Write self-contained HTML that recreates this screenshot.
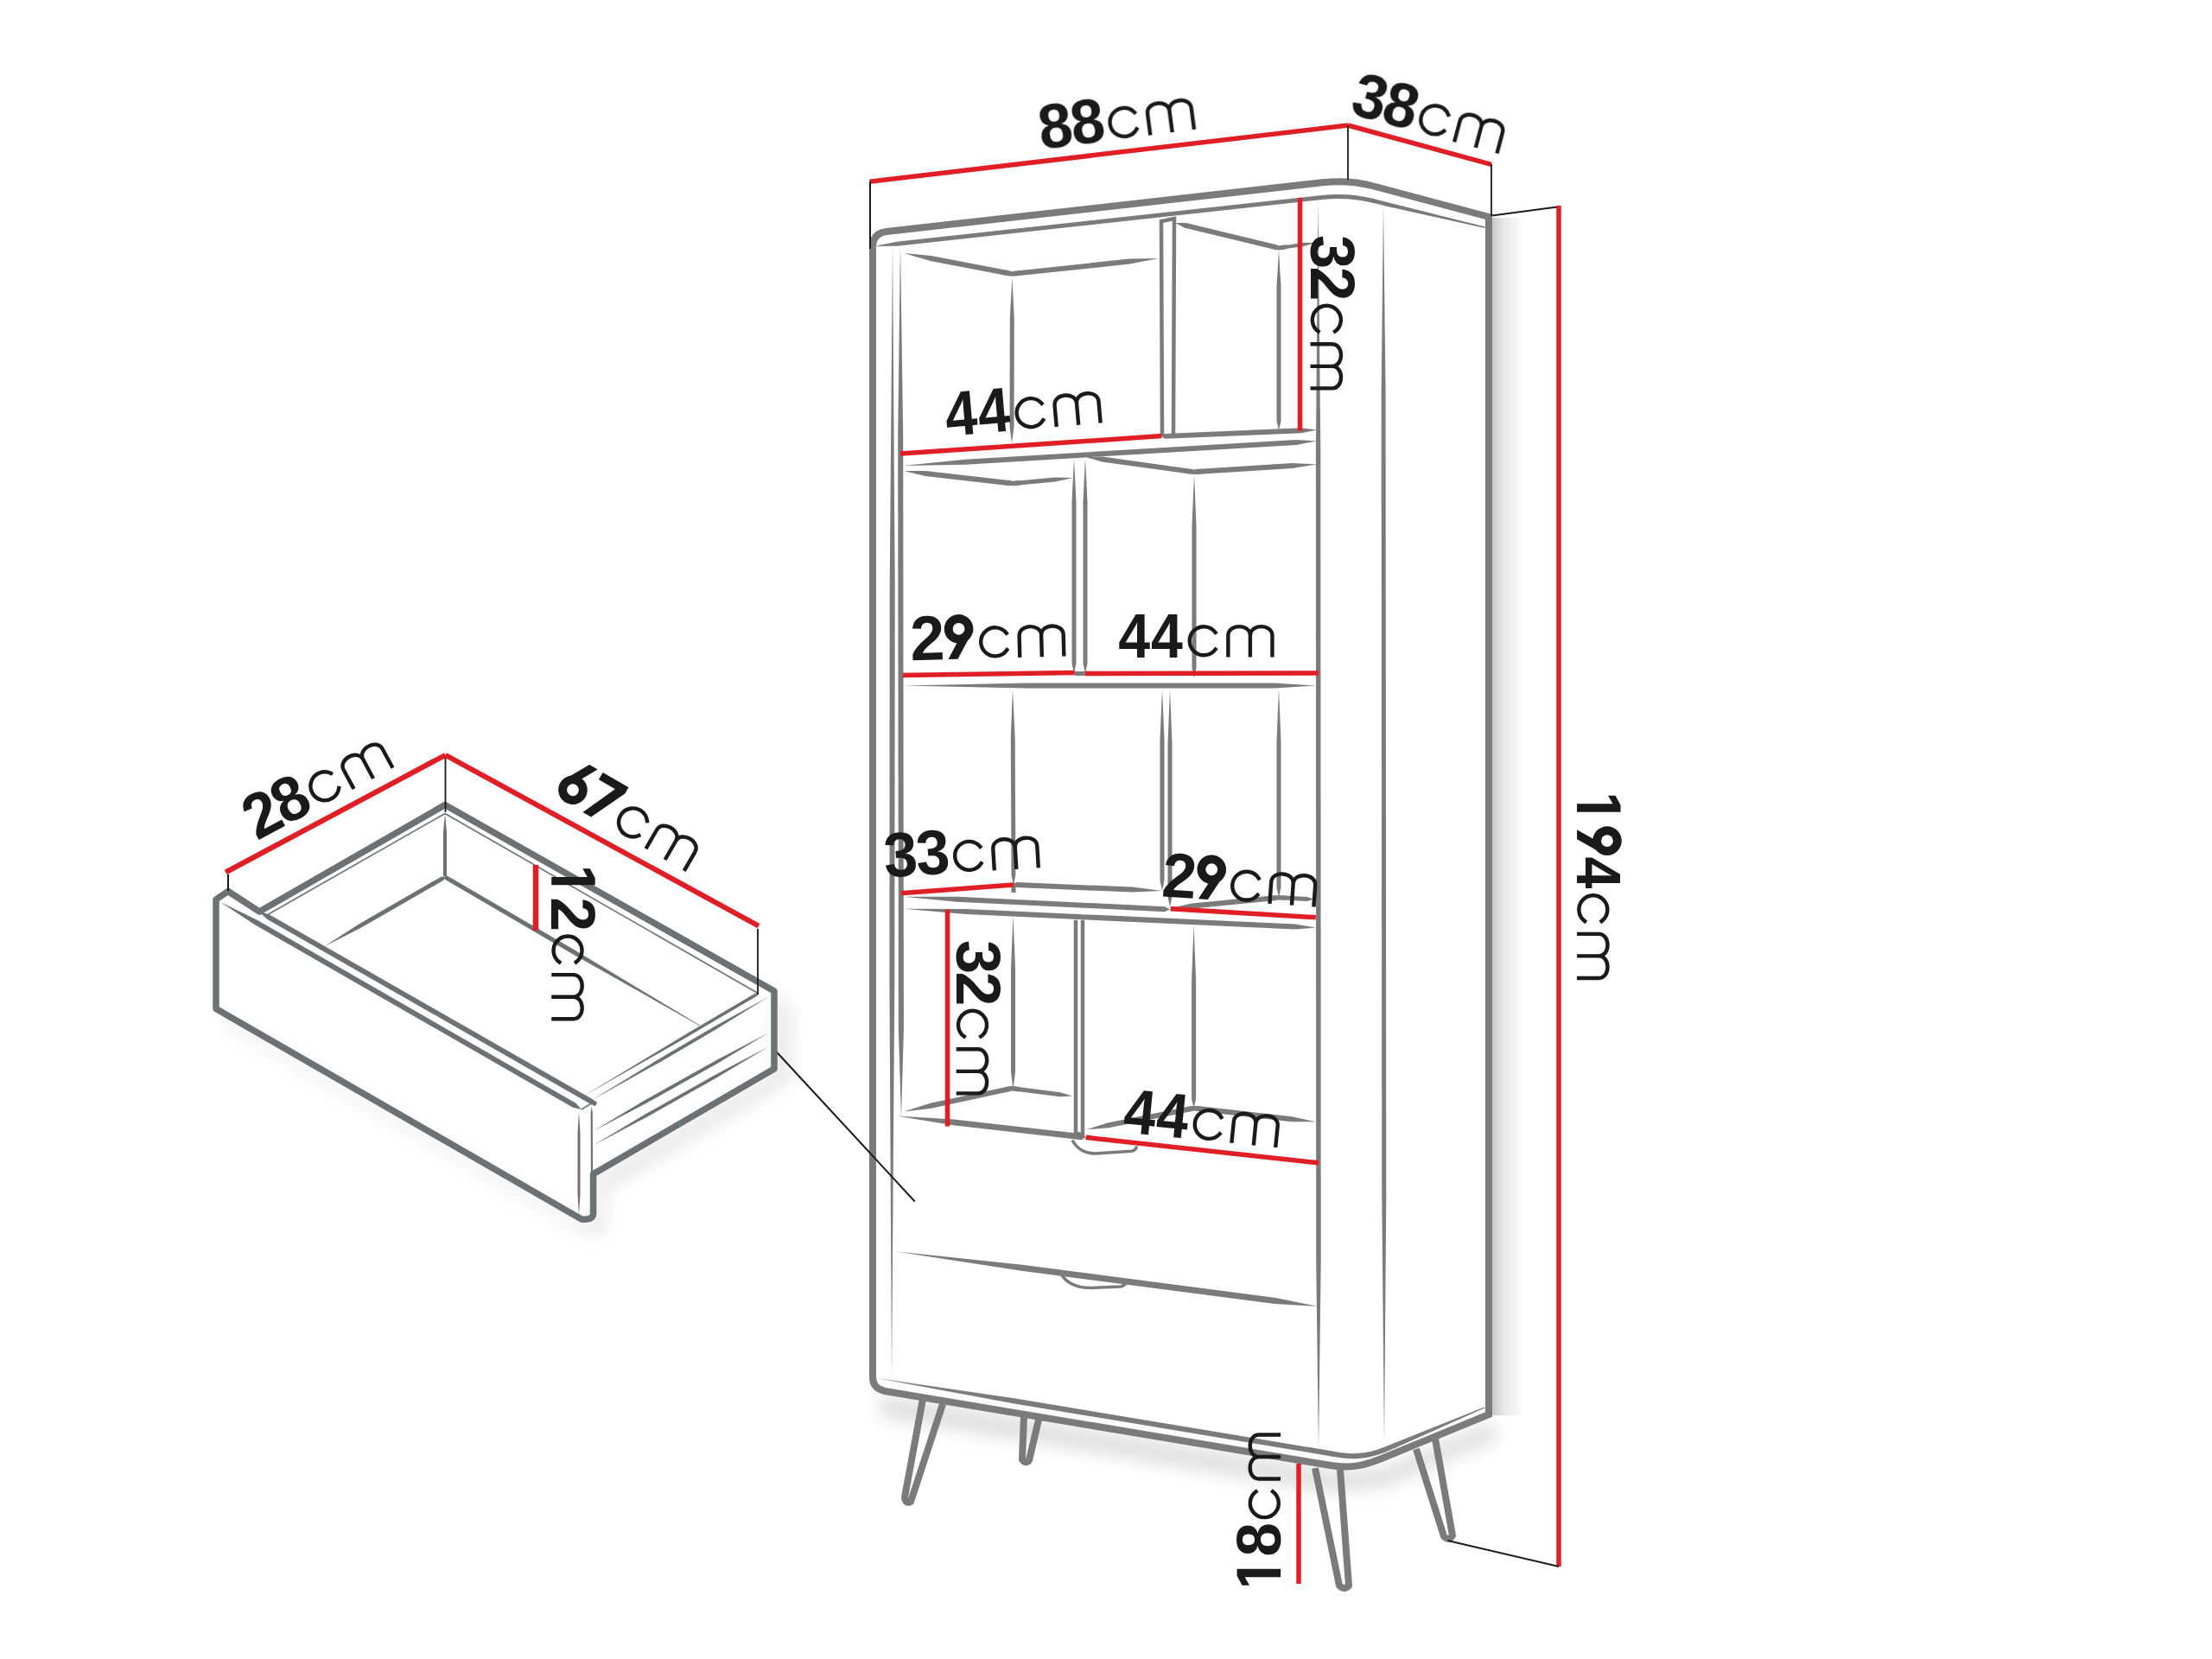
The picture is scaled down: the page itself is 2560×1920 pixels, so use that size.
<!DOCTYPE html>
<html><head><meta charset="utf-8"><style>html,body{margin:0;padding:0;background:#fff;width:2560px;height:1920px;overflow:hidden}svg{display:block}</style></head>
<body><svg width="2560" height="1920" viewBox="0 0 2560 1920">
<defs><linearGradient id="rsh" x1="0" x2="1" y1="0" y2="0"><stop offset="0" stop-color="#000" stop-opacity="0.22"/><stop offset="0.35" stop-color="#000" stop-opacity="0.1"/><stop offset="1" stop-color="#000" stop-opacity="0"/></linearGradient><filter id="blur" x="-20%" y="-20%" width="140%" height="140%"><feGaussianBlur stdDeviation="10"/></filter></defs>
<rect width="2560" height="1920" fill="#fff"/>
<g filter="url(#blur)"><path d="M1018 1614 L1540 1702 L1600 1700 L1726 1645 L1735 1665 L1600 1722 L1540 1726 L1020 1640 Z" fill="#000" opacity="0.13"/><path d="M895 1152 L915 1165 L915 1250 L700 1378 L700 1425 L680 1428 L262 1186 L255 1174 L673 1416 L690 1408 L690 1362 L898 1241 Z" fill="#000" opacity="0.10"/></g>
<rect x="1726" y="252" width="38" height="1386" fill="url(#rsh)"/>
<path d="M1010 1594 L1010 286 Q1010 270 1026 268 L1530 211.3 C1550 209 1570 210 1590 215.5 L1723 251 L1723 1637 L1605 1685.5 C1580 1696 1565 1700 1540 1696 L1024 1610 Q1010 1607 1010 1594 Z" fill="none" stroke="#7b7b7b" stroke-width="8" stroke-linejoin="miter" stroke-linecap="butt"/>
<path d="M1012 285 L1038.2 284.7 L1530.3 231 L1530 228.5 L1530 228.5 L1529.7 226 L1037.6 279.7 L1012 285 Z" fill="#7b7b7b"/>
<path d="M1528 228.7 C1550 226 1568 227 1590 232.5" fill="none" stroke="#7b7b7b" stroke-width="5" stroke-linejoin="round" stroke-linecap="butt"/>
<path d="M1588.4 234.7 L1718.4 263.8 L1718.6 262.6 L1589.6 229.9 Z" fill="#7b7b7b"/>
<path d="M1015 1595 L1172.6 1624.2 L1541.5 1685.5 L1542 1682.5 L1542 1682.5 L1542.5 1679.5 L1173.6 1618.3 L1015 1595 Z" fill="#7b7b7b"/>
<path d="M1540 1682.2 C1562 1686.5 1580 1687 1603 1677.5" fill="none" stroke="#7b7b7b" stroke-width="6" stroke-linejoin="round" stroke-linecap="butt"/>
<path d="M1603.2 1680.8 L1718.2 1629.6 L1717.8 1628.4 L1600.8 1675.2 Z" fill="#7b7b7b"/>
<path d="M1033 283 L1029.7 676.3 L1029.4 1135.1 L1032 1594 L1032 1594 L1035.3 1135.2 L1035.7 676.3 L1033 283 Z" fill="#7b7b7b"/>
<path d="M1042 282 L1039.2 504.6 L1039.9 1192.8 L1043 1294 L1043 1294 L1045.9 1192.8 L1045.2 504.6 L1042 282 Z" fill="#7b7b7b"/>
<path d="M1525.5 231 L1522.9 520.2 L1523.2 1460.1 L1526 1677 L1526 1677 L1528.7 1460.1 L1528.3 520.2 L1525.5 231 Z" fill="#7b7b7b"/>
<path d="M1601 237 L1598.7 452.1 L1599.3 1384.2 L1602 1671 L1602 1671 L1604.3 1384.2 L1603.6 452.1 L1601 237 Z" fill="#7b7b7b"/>
<line x1="1601" y1="237" x2="1718" y2="263" stroke="#7b7b7b" stroke-width="1.5" stroke-linecap="butt"/>
<path d="M1046 293 L1076.7 301.9 L1167.9 319.5 L1171 317 L1171 317 L1169.1 313.6 L1077.8 296.1 L1046 293 Z" fill="#7b7b7b"/>
<path d="M1171 317 L1174.7 319.6 L1307.3 305.6 L1341 299 L1341 299 L1306.7 299.6 L1174.1 313.7 L1171 317 Z" fill="#7b7b7b"/>
<path d="M1171.4 321 L1168.8 369 L1168.5 493.8 L1171 513 L1171 513 L1173.5 493.8 L1173.8 369 L1171.4 321 Z" fill="#7b7b7b"/>
<path d="M1345 505 L1344 256 L1359 253 L1358 503" fill="none" stroke="#7b7b7b" stroke-width="4.5" stroke-linejoin="miter" stroke-linecap="butt"/>
<path d="M1360 258 L1371.3 263.8 L1476.9 289.3 L1480 287 L1480 287 L1478.3 283.5 L1372.7 258 L1360 258 Z" fill="#7b7b7b"/>
<path d="M1480 287 L1481.1 288.9 L1509.7 284.8 L1522 281 L1522 281 L1509.1 280.8 L1480.6 284.9 L1480 287 Z" fill="#7b7b7b"/>
<path d="M1480 290 L1477.5 331.6 L1477.5 487.6 L1480 498 L1480 498 L1482.5 487.6 L1482.5 331.6 L1480 290 Z" fill="#7b7b7b"/>
<path d="M1344 505 L1347.7 507.8 L1506.1 501.2 L1524 497.5 L1524 497.5 L1505.9 495.3 L1347.5 501.9 L1344 505 Z" fill="#7b7b7b"/>
<path d="M1045 539 L1117 537.7 L1500.2 514.9 L1524 510.5 L1524 510.5 L1499.9 508.9 L1116.7 531.7 L1045 539 Z" fill="#7b7b7b"/>
<path d="M1046 545 L1070.9 550.9 L1169.1 562.3 L1172 559.6 L1172 559.6 L1169.8 556.3 L1071.5 544.9 L1046 545 Z" fill="#7b7b7b"/>
<path d="M1172 559.6 L1173.6 562 L1221.2 557.5 L1242 553 L1242 553 L1220.8 552.5 L1173.2 557 L1172 559.6 Z" fill="#7b7b7b"/>
<path d="M1257 529 L1275.3 534.6 L1378.7 548.8 L1381.6 546.2 L1381.6 546.2 L1379.5 542.9 L1276.1 528.6 L1257 529 Z" fill="#7b7b7b"/>
<path d="M1381.6 546.2 L1384.6 549 L1495.7 542.1 L1524 537.3 L1524 537.3 L1495.3 536.1 L1384.3 543 L1381.6 546.2 Z" fill="#7b7b7b"/>
<path d="M1243 531 L1240.5 580.8 L1240.5 767.5 L1243 780 L1243 780 L1245.5 767.5 L1245.5 580.8 L1243 531 Z" fill="#7b7b7b"/>
<path d="M1256 531 L1253.5 580.8 L1253.5 767.5 L1256 780 L1256 780 L1258.5 767.5 L1258.5 580.8 L1256 531 Z" fill="#7b7b7b"/>
<path d="M1382 549 L1379.5 608 L1379.5 773.2 L1382 785 L1382 785 L1384.5 773.2 L1384.5 608 L1382 549 Z" fill="#7b7b7b"/>
<path d="M1045 793.5 L1188.4 796.5 L1475.2 796.5 L1523 793.5 L1523 793.5 L1475.2 790.5 L1188.4 790.5 L1045 793.5 Z" fill="#7b7b7b"/>
<line x1="1243.7" y1="779.5" x2="1255.6" y2="779.5" stroke="#7b7b7b" stroke-width="5" stroke-linecap="butt"/>
<path d="M1345 797.5 L1342.5 855.9 L1342.5 1019.3 L1345 1031 L1345 1031 L1347.5 1019.3 L1347.5 855.9 L1345 797.5 Z" fill="#7b7b7b"/>
<path d="M1354 797.5 L1351.5 860.6 L1351.5 1037.4 L1354 1050 L1354 1050 L1356.5 1037.4 L1356.5 860.6 L1354 797.5 Z" fill="#7b7b7b"/>
<path d="M1172 797.5 L1169.8 854.1 L1170.5 1012.7 L1173 1024 L1173 1024 L1175.4 1012.7 L1174.7 854.1 L1172 797.5 Z" fill="#7b7b7b"/>
<path d="M1480 797.5 L1477.5 857.9 L1477.5 1026.9 L1480 1039 L1480 1039 L1482.5 1026.9 L1482.5 857.9 L1480 797.5 Z" fill="#7b7b7b"/>
<path d="M1173 1024 L1176.3 1027.1 L1310.5 1032.6 L1345 1031 L1345 1031 L1310.7 1026.6 L1176.6 1021.1 L1173 1024 Z" fill="#7b7b7b"/>
<path d="M1354.7 1051 L1380.1 1051.5 L1477.8 1042 L1480 1038.8 L1480 1038.8 L1477.2 1036.1 L1379.5 1045.6 L1354.7 1051 Z" fill="#7b7b7b"/>
<path d="M1480 1038.8 L1480.7 1041.3 L1512.7 1042.9 L1521 1040.8 L1521 1040.8 L1512.9 1037.9 L1480.9 1036.3 L1480 1038.8 Z" fill="#7b7b7b"/>
<path d="M1045.8 1037.8 L1107.3 1043.7 L1347.7 1055.2 L1354 1052.5 L1354 1052.5 L1348 1049.2 L1107.6 1037.7 L1045.8 1037.8 Z" fill="#7b7b7b"/>
<path d="M1045.8 1051.7 L1117.2 1058 L1499 1075.5 L1523 1073.6 L1523 1073.6 L1499.3 1069.5 L1117.5 1052 L1045.8 1051.7 Z" fill="#7b7b7b"/>
<path d="M1172.5 1059.7 L1170 1120 L1170 1240.5 L1172.5 1260.6 L1172.5 1260.6 L1175 1240.5 L1175 1120 L1172.5 1059.7 Z" fill="#7b7b7b"/>
<path d="M1045.8 1286.5 L1077.7 1282.7 L1169.1 1263.1 L1171 1259.6 L1171 1259.6 L1167.9 1257.2 L1076.5 1276.8 L1045.8 1286.5 Z" fill="#7b7b7b"/>
<path d="M1171 1259.6 L1172.1 1262.3 L1226.7 1269.3 L1241 1268.6 L1241 1268.6 L1227.3 1264.3 L1172.7 1257.3 L1171 1259.6 Z" fill="#7b7b7b"/>
<path d="M1245 1064.7 L1245 1312 L1253 1313 L1253 1064.7" fill="none" stroke="#7b7b7b" stroke-width="4.5" stroke-linejoin="miter" stroke-linecap="butt"/>
<path d="M1381.6 1070.6 L1379.1 1134.2 L1379.1 1271.9 L1381.6 1282.5 L1381.6 1282.5 L1384.1 1271.9 L1384.1 1134.2 L1381.6 1070.6 Z" fill="#7b7b7b"/>
<path d="M1257.6 1307.3 L1283 1305.3 L1379.7 1285.9 L1381.6 1282.5 L1381.6 1282.5 L1378.5 1280.1 L1281.8 1299.4 L1257.6 1307.3 Z" fill="#7b7b7b"/>
<path d="M1381.6 1282.5 L1384.1 1285.8 L1494.4 1298.2 L1523 1298.4 L1523 1298.4 L1495.1 1292.2 L1384.8 1279.8 L1381.6 1282.5 Z" fill="#7b7b7b"/>
<path d="M1037.8 1291.4 L1103 1302.3 L1251.8 1319.3 L1256.6 1316.3 L1256.6 1316.3 L1252.6 1312.3 L1103.8 1295.4 L1037.8 1291.4 Z" fill="#7b7b7b"/>
<path d="M1241 1319.5 C1247 1330.5 1255 1335 1268 1335 L1309.5 1332.3 Q1315.5 1331 1315 1326.5" fill="none" stroke="#7b7b7b" stroke-width="3.6" stroke-linejoin="round" stroke-linecap="butt"/>
<path d="M1229 1476 C1236 1486 1246 1490.5 1262 1490.5 L1297 1489 Q1302.5 1488 1304 1482" fill="none" stroke="#7b7b7b" stroke-width="3.6" stroke-linejoin="round" stroke-linecap="butt"/>
<path d="M1162.2 315.3 L1171 317 L1179.9 316.1" fill="none" stroke="#7b7b7b" stroke-width="5.5" stroke-linejoin="miter" stroke-miterlimit="10"/>
<path d="M1471.3 284.9 L1480 287 L1488.9 285.7" fill="none" stroke="#7b7b7b" stroke-width="5" stroke-linejoin="miter" stroke-miterlimit="10"/>
<path d="M1163.1 558.6 L1172 559.6 L1181 558.8" fill="none" stroke="#7b7b7b" stroke-width="5.5" stroke-linejoin="miter" stroke-miterlimit="10"/>
<path d="M1372.7 545 L1381.6 546.2 L1390.6 545.6" fill="none" stroke="#7b7b7b" stroke-width="5.5" stroke-linejoin="miter" stroke-miterlimit="10"/>
<path d="M1471 1039.7 L1480 1038.8 L1489 1039.2" fill="none" stroke="#7b7b7b" stroke-width="5" stroke-linejoin="miter" stroke-miterlimit="10"/>
<path d="M1162.2 1261.5 L1171 1259.6 L1179.9 1260.7" fill="none" stroke="#7b7b7b" stroke-width="5.5" stroke-linejoin="miter" stroke-miterlimit="10"/>
<path d="M1372.8 1284.3 L1381.6 1282.5 L1390.5 1283.5" fill="none" stroke="#7b7b7b" stroke-width="5.5" stroke-linejoin="miter" stroke-miterlimit="10"/>
<path d="M1173 1033 L1173 1024 L1182 1024.4" fill="none" stroke="#7b7b7b" stroke-width="5" stroke-linejoin="miter" stroke-miterlimit="10"/>
<path d="M1035.8 1448.2 L1182.1 1470.8 L1475.6 1509 L1525 1511.9 L1525 1511.9 L1476.5 1502.1 L1183 1463.8 L1035.8 1448.2 Z" fill="#7b7b7b"/>
<path d="M1068 1619 L1047 1733 Q1048 1741 1054 1738 L1091 1625" fill="none" stroke="#7b7b7b" stroke-width="8" stroke-linejoin="round" stroke-linecap="butt"/>
<path d="M1185 1640 L1183 1689 Q1187 1695 1191 1690 L1202 1643" fill="none" stroke="#7b7b7b" stroke-width="8" stroke-linejoin="round" stroke-linecap="butt"/>
<path d="M1522 1699 L1550 1835 Q1556 1841 1561 1835 L1551 1701" fill="none" stroke="#7b7b7b" stroke-width="8" stroke-linejoin="round" stroke-linecap="butt"/>
<path d="M1639 1677 L1671 1778 Q1677 1784 1681 1777 L1661 1665" fill="none" stroke="#7b7b7b" stroke-width="8" stroke-linejoin="round" stroke-linecap="butt"/>
<line x1="1006.5" y1="210.2" x2="1560" y2="145" stroke="#e01e26" stroke-width="5.5" stroke-linecap="butt"/>
<line x1="1560" y1="145" x2="1726" y2="190.4" stroke="#e01e26" stroke-width="5.5" stroke-linecap="butt"/>
<line x1="1007" y1="210" x2="1007" y2="288" stroke="#1a1a1a" stroke-width="2" stroke-linecap="butt"/>
<line x1="1560" y1="145" x2="1560" y2="208" stroke="#1a1a1a" stroke-width="1.8" stroke-linecap="butt"/>
<line x1="1726" y1="190" x2="1726" y2="250" stroke="#1a1a1a" stroke-width="1.8" stroke-linecap="butt"/>
<line x1="1727" y1="249.5" x2="1806" y2="239" stroke="#1a1a1a" stroke-width="2" stroke-linecap="butt"/>
<line x1="1804" y1="238" x2="1804" y2="1813" stroke="#e01e26" stroke-width="5.5" stroke-linecap="butt"/>
<line x1="1675.5" y1="1783" x2="1804" y2="1813" stroke="#1a1a1a" stroke-width="2" stroke-linecap="butt"/>
<line x1="1503" y1="1694" x2="1503" y2="1833" stroke="#e01e26" stroke-width="5.5" stroke-linecap="butt"/>
<line x1="1504.5" y1="229" x2="1504.5" y2="498.5" stroke="#e01e26" stroke-width="5.5" stroke-linecap="butt"/>
<line x1="1042" y1="525" x2="1344.3" y2="504.6" stroke="#e01e26" stroke-width="5.5" stroke-linecap="butt"/>
<line x1="1044.8" y1="781.6" x2="1243.7" y2="778.6" stroke="#e01e26" stroke-width="5.5" stroke-linecap="butt"/>
<line x1="1255.6" y1="779.6" x2="1525.8" y2="779" stroke="#e01e26" stroke-width="5.5" stroke-linecap="butt"/>
<line x1="1042.8" y1="1033.8" x2="1173" y2="1023.9" stroke="#e01e26" stroke-width="5.5" stroke-linecap="butt"/>
<line x1="1354.7" y1="1051.7" x2="1522.8" y2="1061.7" stroke="#e01e26" stroke-width="5.5" stroke-linecap="butt"/>
<line x1="1096.5" y1="1052.7" x2="1096.5" y2="1303.4" stroke="#e01e26" stroke-width="5.5" stroke-linecap="butt"/>
<line x1="1256.6" y1="1316.3" x2="1525.8" y2="1345.8" stroke="#e01e26" stroke-width="5.5" stroke-linecap="butt"/>
<line x1="895.3" y1="1213.7" x2="1058.7" y2="1390.5" stroke="#1a1a1a" stroke-width="2" stroke-linecap="butt"/>
<path d="M250 1167 L250 1041 L264 1031.5 L300.3 1055.1 L515 931.5 L896 1147 L896 1237 L686.6 1358.7 L686.6 1405 Q686 1412 673 1411 L250 1167.5 Z" fill="none" stroke="#6c7173" stroke-width="7.5" stroke-linejoin="round" stroke-linecap="butt"/>
<line x1="515" y1="941.5" x2="309" y2="1059" stroke="#6c7173" stroke-width="1.6" stroke-linecap="butt"/>
<line x1="515" y1="941.5" x2="878" y2="1150" stroke="#6c7173" stroke-width="1.6" stroke-linecap="butt"/>
<path d="M515 941 L513 963.2 L513 1013.5 L515 1015 L515 1015 L517 1013.5 L517 963.2 L515 941 Z" fill="#6c7173"/>
<path d="M515 1015 L511 1014.4 L415.8 1069.2 L375 1095.5 L375 1095.5 L418.2 1073.5 L513.4 1018.8 L515 1015 Z" fill="#6c7173"/>
<path d="M513.9 1016.9 L519.6 1020.6 L661.2 1103.2 L809.8 1187.3 L810.2 1186.7 L663.8 1098.8 L522.2 1016.3 L516.1 1013.1 Z" fill="#6c7173"/>
<path d="M254.7 1043.7 L295 1070.3 L663.1 1281.8 L673 1284 L673 1284 L666.1 1276.6 L298 1065.1 L254.7 1043.7 Z" fill="#6c7173"/>
<path d="M302.2 1057.6 L309 1063.7 L680.8 1276.2 L688.8 1280.2 L691.2 1275.8 L683.7 1271 L311.9 1058.5 L303.2 1055.8 Z" fill="#6c7173"/>
<line x1="673" y1="1284" x2="686" y2="1276" stroke="#6c7173" stroke-width="1.5" stroke-linecap="butt"/>
<path d="M670 1287 L668.5 1310.8 L668.5 1382.2 L670 1406 L670 1406 L671.5 1382.2 L671.5 1310.8 L670 1287 Z" fill="#6c7173"/>
<path d="M674 1269.3 L796.7 1199.3 L873.9 1153.9 L877.6 1151.1 L876.4 1148.9 L872 1150.8 L794.9 1196.2 L674 1269.3 Z" fill="#6c7173"/>
<path d="M684 1273.7 L767.4 1227.2 L829.2 1191.1 L890 1153.3 L890 1153.3 L827.2 1187.8 L765.4 1223.9 L684 1273.7 Z" fill="#6c7173"/>
<path d="M686.6 1309 L748.5 1276.5 L829.9 1230.9 L890 1195 L890 1195 L828.1 1227.5 L746.7 1273.1 L686.6 1309 Z" fill="#6c7173"/>
<path d="M686.6 1325.5 L748.6 1292.8 L829.9 1247 L890 1211 L890 1211 L828 1243.7 L746.7 1289.5 L686.6 1325.5 Z" fill="#6c7173"/>
<path d="M684.7 1280 L683.6 1288 L683.9 1358.4 L685 1360 L685 1360 L686.1 1358.4 L685.8 1288 L684.7 1280 Z" fill="#6c7173"/>
<line x1="261.2" y1="1009.5" x2="515.5" y2="873.8" stroke="#e01e26" stroke-width="6" stroke-linecap="butt"/>
<line x1="515.5" y1="873.8" x2="878" y2="1071.7" stroke="#e01e26" stroke-width="6" stroke-linecap="butt"/>
<line x1="264" y1="1012" x2="264" y2="1031" stroke="#1a1a1a" stroke-width="2" stroke-linecap="butt"/>
<line x1="515.5" y1="877" x2="515.5" y2="940" stroke="#1a1a1a" stroke-width="1.8" stroke-linecap="butt"/>
<line x1="877" y1="1075" x2="877" y2="1151" stroke="#1a1a1a" stroke-width="1.8" stroke-linecap="butt"/>
<line x1="620" y1="1001" x2="620" y2="1076.7" stroke="#e01e26" stroke-width="6.5" stroke-linecap="butt"/>
<g transform="translate(1207.22 172.79) rotate(-7.5)"><text transform="translate(0.00 0) scale(0.9711 1)" x="-2.31" font-family="Liberation Sans" font-weight="bold" font-size="73.0" fill="#1a1a1a">8</text><text transform="translate(37.40 0) scale(0.9711 1)" x="-2.31" font-family="Liberation Sans" font-weight="bold" font-size="73.0" fill="#1a1a1a">8</text><path d="M110.45 -28.50 A16.5 16.5 0 1 0 110.45 -9.10" fill="none" stroke="#1a1a1a" stroke-width="4.4" stroke-linecap="square"/><path d="M125.20 0 V-25.10 C125.20 -38.90 150.75 -38.90 150.75 -25.10 V0 M150.75 -25.10 C150.75 -38.90 176.30 -38.90 176.30 -25.10 V0" fill="none" stroke="#1a1a1a" stroke-width="4.4"/></g>
<g transform="translate(1562.18 131.87) rotate(15)"><text transform="translate(0.00 0) scale(0.9645 1)" x="-1.67" font-family="Liberation Sans" font-weight="bold" font-size="73.0" fill="#1a1a1a">3</text><text transform="translate(37.40 0) scale(0.9711 1)" x="-2.31" font-family="Liberation Sans" font-weight="bold" font-size="73.0" fill="#1a1a1a">8</text><path d="M110.45 -28.50 A16.5 16.5 0 1 0 110.45 -9.10" fill="none" stroke="#1a1a1a" stroke-width="4.4" stroke-linecap="square"/><path d="M125.20 0 V-25.10 C125.20 -38.90 150.75 -38.90 150.75 -25.10 V0 M150.75 -25.10 C150.75 -38.90 176.30 -38.90 176.30 -25.10 V0" fill="none" stroke="#1a1a1a" stroke-width="4.4"/></g>
<g transform="translate(1097.04 504.94) rotate(-5)"><text transform="translate(0.00 0) scale(0.9080 1)" x="-1.10" font-family="Liberation Sans" font-weight="bold" font-size="73.0" fill="#1a1a1a">4</text><text transform="translate(37.90 0) scale(0.9080 1)" x="-1.10" font-family="Liberation Sans" font-weight="bold" font-size="73.0" fill="#1a1a1a">4</text><path d="M111.45 -28.50 A16.5 16.5 0 1 0 111.45 -9.10" fill="none" stroke="#1a1a1a" stroke-width="4.4" stroke-linecap="square"/><path d="M126.20 0 V-25.10 C126.20 -38.90 151.75 -38.90 151.75 -25.10 V0 M151.75 -25.10 C151.75 -38.90 177.30 -38.90 177.30 -25.10 V0" fill="none" stroke="#1a1a1a" stroke-width="4.4"/></g>
<g transform="translate(1516.55 273.60) rotate(90)"><text transform="translate(0.00 0) scale(0.9645 1)" x="-1.67" font-family="Liberation Sans" font-weight="bold" font-size="73.0" fill="#1a1a1a">3</text><text transform="translate(37.40 0) scale(0.9817 1)" x="-2.53" font-family="Liberation Sans" font-weight="bold" font-size="73.0" fill="#1a1a1a">2</text><path d="M109.95 -28.50 A16.5 16.5 0 1 0 109.95 -9.10" fill="none" stroke="#1a1a1a" stroke-width="4.4" stroke-linecap="square"/><path d="M124.70 0 V-25.10 C124.70 -38.90 150.25 -38.90 150.25 -25.10 V0 M150.25 -25.10 C150.25 -38.90 175.80 -38.90 175.80 -25.10 V0" fill="none" stroke="#1a1a1a" stroke-width="4.4"/></g>
<g transform="translate(1056.60 764.13) rotate(-1.5)"><text transform="translate(0.00 0) scale(0.9817 1)" x="-2.53" font-family="Liberation Sans" font-weight="bold" font-size="73.0" fill="#1a1a1a">2</text><circle cx="53.90" cy="-34.9" r="16.8" fill="#1a1a1a"/><path d="M70.60 -33 L51.90 0 L40.90 0 L56.90 -28.5 Z" fill="#1a1a1a"/><circle cx="53.90" cy="-34.9" r="6.9" fill="#fff"/><path d="M108.95 -28.50 A16.5 16.5 0 1 0 108.95 -9.10" fill="none" stroke="#1a1a1a" stroke-width="4.4" stroke-linecap="square"/><path d="M123.70 0 V-25.10 C123.70 -38.90 149.25 -38.90 149.25 -25.10 V0 M149.25 -25.10 C149.25 -38.90 174.80 -38.90 174.80 -25.10 V0" fill="none" stroke="#1a1a1a" stroke-width="4.4"/></g>
<g transform="translate(1295.15 760.55) rotate(0)"><text transform="translate(0.00 0) scale(0.9080 1)" x="-1.10" font-family="Liberation Sans" font-weight="bold" font-size="73.0" fill="#1a1a1a">4</text><text transform="translate(37.90 0) scale(0.9080 1)" x="-1.10" font-family="Liberation Sans" font-weight="bold" font-size="73.0" fill="#1a1a1a">4</text><path d="M111.45 -28.50 A16.5 16.5 0 1 0 111.45 -9.10" fill="none" stroke="#1a1a1a" stroke-width="4.4" stroke-linecap="square"/><path d="M126.20 0 V-25.10 C126.20 -38.90 151.75 -38.90 151.75 -25.10 V0 M151.75 -25.10 C151.75 -38.90 177.30 -38.90 177.30 -25.10 V0" fill="none" stroke="#1a1a1a" stroke-width="4.4"/></g>
<g transform="translate(1025.84 1015.05) rotate(-3.5)"><text transform="translate(0.00 0) scale(0.9645 1)" x="-1.67" font-family="Liberation Sans" font-weight="bold" font-size="73.0" fill="#1a1a1a">3</text><text transform="translate(37.40 0) scale(0.9645 1)" x="-1.67" font-family="Liberation Sans" font-weight="bold" font-size="73.0" fill="#1a1a1a">3</text><path d="M110.45 -28.50 A16.5 16.5 0 1 0 110.45 -9.10" fill="none" stroke="#1a1a1a" stroke-width="4.4" stroke-linecap="square"/><path d="M125.20 0 V-25.10 C125.20 -38.90 150.75 -38.90 150.75 -25.10 V0 M150.75 -25.10 C150.75 -38.90 176.30 -38.90 176.30 -25.10 V0" fill="none" stroke="#1a1a1a" stroke-width="4.4"/></g>
<g transform="translate(1346.05 1037.31) rotate(4)"><text transform="translate(0.00 0) scale(0.9817 1)" x="-2.53" font-family="Liberation Sans" font-weight="bold" font-size="73.0" fill="#1a1a1a">2</text><circle cx="53.90" cy="-34.9" r="16.8" fill="#1a1a1a"/><path d="M70.60 -33 L51.90 0 L40.90 0 L56.90 -28.5 Z" fill="#1a1a1a"/><circle cx="53.90" cy="-34.9" r="6.9" fill="#fff"/><path d="M108.95 -28.50 A16.5 16.5 0 1 0 108.95 -9.10" fill="none" stroke="#1a1a1a" stroke-width="4.4" stroke-linecap="square"/><path d="M123.70 0 V-25.10 C123.70 -38.90 149.25 -38.90 149.25 -25.10 V0 M149.25 -25.10 C149.25 -38.90 174.80 -38.90 174.80 -25.10 V0" fill="none" stroke="#1a1a1a" stroke-width="4.4"/></g>
<g transform="translate(1106.70 1089.60) rotate(90)"><text transform="translate(0.00 0) scale(0.9645 1)" x="-1.67" font-family="Liberation Sans" font-weight="bold" font-size="73.0" fill="#1a1a1a">3</text><text transform="translate(37.40 0) scale(0.9817 1)" x="-2.53" font-family="Liberation Sans" font-weight="bold" font-size="73.0" fill="#1a1a1a">2</text><path d="M109.95 -28.50 A16.5 16.5 0 1 0 109.95 -9.10" fill="none" stroke="#1a1a1a" stroke-width="4.4" stroke-linecap="square"/><path d="M124.70 0 V-25.10 C124.70 -38.90 150.25 -38.90 150.25 -25.10 V0 M150.25 -25.10 C150.25 -38.90 175.80 -38.90 175.80 -25.10 V0" fill="none" stroke="#1a1a1a" stroke-width="4.4"/></g>
<g transform="translate(1299.78 1310.36) rotate(5.7)"><text transform="translate(0.00 0) scale(0.9080 1)" x="-1.10" font-family="Liberation Sans" font-weight="bold" font-size="73.0" fill="#1a1a1a">4</text><text transform="translate(37.90 0) scale(0.9080 1)" x="-1.10" font-family="Liberation Sans" font-weight="bold" font-size="73.0" fill="#1a1a1a">4</text><path d="M111.45 -28.50 A16.5 16.5 0 1 0 111.45 -9.10" fill="none" stroke="#1a1a1a" stroke-width="4.4" stroke-linecap="square"/><path d="M126.20 0 V-25.10 C126.20 -38.90 151.75 -38.90 151.75 -25.10 V0 M151.75 -25.10 C151.75 -38.90 177.30 -38.90 177.30 -25.10 V0" fill="none" stroke="#1a1a1a" stroke-width="4.4"/></g>
<g transform="translate(1482.10 1834.85) rotate(-90)"><path d="M9.60 0 H19.00 V-50.5 H11.00 L0.00 -44.5 V-36 L9.60 -41.5 Z" fill="#1a1a1a"/><text transform="translate(35.50 0) scale(0.9711 1)" x="-2.31" font-family="Liberation Sans" font-weight="bold" font-size="73.0" fill="#1a1a1a">8</text><path d="M108.55 -28.50 A16.5 16.5 0 1 0 108.55 -9.10" fill="none" stroke="#1a1a1a" stroke-width="4.4" stroke-linecap="square"/><path d="M123.30 0 V-25.10 C123.30 -38.90 148.85 -38.90 148.85 -25.10 V0 M148.85 -25.10 C148.85 -38.90 174.40 -38.90 174.40 -25.10 V0" fill="none" stroke="#1a1a1a" stroke-width="4.4"/></g>
<g transform="translate(1825.05 920.65) rotate(90)"><path d="M9.60 0 H19.00 V-50.5 H11.00 L0.00 -44.5 V-36 L9.60 -41.5 Z" fill="#1a1a1a"/><circle cx="52.50" cy="-34.9" r="16.8" fill="#1a1a1a"/><path d="M69.20 -33 L50.50 0 L39.50 0 L55.50 -28.5 Z" fill="#1a1a1a"/><circle cx="52.50" cy="-34.9" r="6.9" fill="#fff"/><text transform="translate(71.90 0) scale(0.9080 1)" x="-1.10" font-family="Liberation Sans" font-weight="bold" font-size="73.0" fill="#1a1a1a">4</text><path d="M145.45 -28.50 A16.5 16.5 0 1 0 145.45 -9.10" fill="none" stroke="#1a1a1a" stroke-width="4.4" stroke-linecap="square"/><path d="M160.20 0 V-25.10 C160.20 -38.90 185.75 -38.90 185.75 -25.10 V0 M185.75 -25.10 C185.75 -38.90 211.30 -38.90 211.30 -25.10 V0" fill="none" stroke="#1a1a1a" stroke-width="4.4"/></g>
<g transform="translate(299.75 972.15) rotate(-28.3)"><text transform="translate(0.00 0) scale(0.9817 1)" x="-2.53" font-family="Liberation Sans" font-weight="bold" font-size="73.0" fill="#1a1a1a">2</text><text transform="translate(36.90 0) scale(0.9711 1)" x="-2.31" font-family="Liberation Sans" font-weight="bold" font-size="73.0" fill="#1a1a1a">8</text><path d="M109.95 -28.50 A16.5 16.5 0 1 0 109.95 -9.10" fill="none" stroke="#1a1a1a" stroke-width="4.4" stroke-linecap="square"/><path d="M124.70 0 V-25.10 C124.70 -38.90 150.25 -38.90 150.25 -25.10 V0 M150.25 -25.10 C150.25 -38.90 175.80 -38.90 175.80 -25.10 V0" fill="none" stroke="#1a1a1a" stroke-width="4.4"/></g>
<g transform="translate(639.94 920.13) rotate(30)"><circle cx="17.00" cy="-16.6" r="16.8" fill="#1a1a1a"/><path d="M0.30 -18.5 L19.00 -51.5 L30.00 -51.5 L14.00 -23 Z" fill="#1a1a1a"/><circle cx="17.00" cy="-16.6" r="6.9" fill="#fff"/><path d="M36.90 -51.5 H71.40 V-43 L50.90 0 H39.90 L58.90 -42 H36.90 Z" fill="#1a1a1a"/><path d="M109.45 -28.50 A16.5 16.5 0 1 0 109.45 -9.10" fill="none" stroke="#1a1a1a" stroke-width="4.4" stroke-linecap="square"/><path d="M124.20 0 V-25.10 C124.20 -38.90 149.75 -38.90 149.75 -25.10 V0 M149.75 -25.10 C149.75 -38.90 175.30 -38.90 175.30 -25.10 V0" fill="none" stroke="#1a1a1a" stroke-width="4.4"/></g>
<g transform="translate(638.25 1005.35) rotate(90)"><path d="M9.60 0 H19.00 V-50.5 H11.00 L0.00 -44.5 V-36 L9.60 -41.5 Z" fill="#1a1a1a"/><text transform="translate(35.50 0) scale(0.9817 1)" x="-2.53" font-family="Liberation Sans" font-weight="bold" font-size="73.0" fill="#1a1a1a">2</text><path d="M108.05 -28.50 A16.5 16.5 0 1 0 108.05 -9.10" fill="none" stroke="#1a1a1a" stroke-width="4.4" stroke-linecap="square"/><path d="M122.80 0 V-25.10 C122.80 -38.90 148.35 -38.90 148.35 -25.10 V0 M148.35 -25.10 C148.35 -38.90 173.90 -38.90 173.90 -25.10 V0" fill="none" stroke="#1a1a1a" stroke-width="4.4"/></g>
</svg></body></html>
